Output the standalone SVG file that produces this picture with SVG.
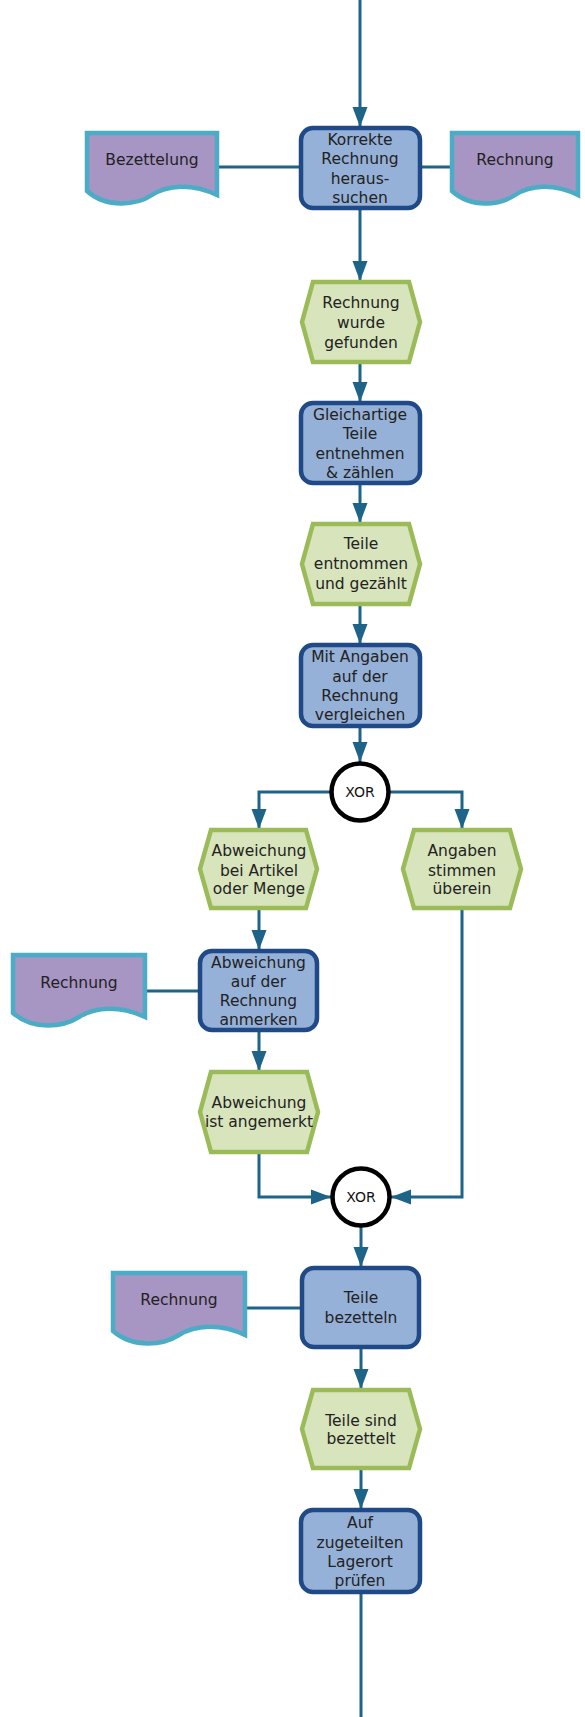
<svg xmlns="http://www.w3.org/2000/svg" width="585" height="1717" viewBox="0 0 585 1717">
<defs>
<style>
.fn{fill:#95B1D8;stroke:#1F4A87;stroke-width:4.5}
.ev{fill:#D8E4BC;stroke:#9BBB59;stroke-width:4.5}
.doc{fill:#A795C4;stroke:#4BACC6;stroke-width:4.5}
.xor{fill:#FFFFFF;stroke:#000000;stroke-width:4.5}
.c{fill:none;stroke:#1D6488;stroke-width:3}
.t{font-family:"DejaVu Sans","Liberation Sans",sans-serif;font-size:15.5px;fill:#222222;text-anchor:middle}
.x{font-family:"DejaVu Sans","Liberation Sans",sans-serif;font-size:14px;fill:#111111;text-anchor:middle}
</style>
<marker id="arr" markerWidth="20" markerHeight="16" refX="20" refY="8" orient="auto" markerUnits="userSpaceOnUse">
<path d="M0,0.5 L20,8 L0,15.5 Z" fill="#1D6488"/>
</marker>
</defs>
<rect width="585" height="1717" fill="#FFFFFF"/>
<g id="connectors">
<path class="c" d="M360,0 V127" marker-end="url(#arr)"/>
<path class="c" d="M217,167 H301"/>
<path class="c" d="M420,167 H452"/>
<path class="c" d="M360,208 V281" marker-end="url(#arr)"/>
<path class="c" d="M360,362 V402" marker-end="url(#arr)"/>
<path class="c" d="M360,483 V523" marker-end="url(#arr)"/>
<path class="c" d="M360,604 V644" marker-end="url(#arr)"/>
<path class="c" d="M360,726 V762" marker-end="url(#arr)"/>
<path class="c" d="M331,792 H259 V829" marker-end="url(#arr)"/>
<path class="c" d="M389,792 H462 V829" marker-end="url(#arr)"/>
<path class="c" d="M259,908 V950" marker-end="url(#arr)"/>
<path class="c" d="M145,991 H200"/>
<path class="c" d="M259,1030 V1071" marker-end="url(#arr)"/>
<path class="c" d="M259,1152 V1197 H331" marker-end="url(#arr)"/>
<path class="c" d="M462,908 V1197 H391" marker-end="url(#arr)"/>
<path class="c" d="M361,1227 V1267" marker-end="url(#arr)"/>
<path class="c" d="M245,1308 H302"/>
<path class="c" d="M361,1347 V1389" marker-end="url(#arr)"/>
<path class="c" d="M361,1468 V1509" marker-end="url(#arr)"/>
<path class="c" d="M361,1592 V1717"/>
</g>
<g id="f1">
<rect class="fn" x="301" y="128" width="119" height="80" rx="12"/>
<text class="t" x="360"><tspan x="360" y="144.5">Korrekte</tspan><tspan x="360" y="164">Rechnung</tspan><tspan x="360" y="183.5">heraus-</tspan><tspan x="360" y="203">suchen</tspan></text>
</g>
<g id="doc1">
<path class="doc" d="M87,133 H217 V195 C192,183 167,185 152,195 S107,209 87,191 Z"/>
<text class="t" x="152" y="164.5">Bezettelung</text>
</g>
<g id="doc2">
<path class="doc" d="M452,133 H578 V195 C554,183 530,185 515,195 S472,209 452,191 Z"/>
<text class="t" x="515" y="164.5">Rechnung</text>
</g>
<g id="e1">
<polygon class="ev" points="313,282 409,282 420,322 409,362 313,362 302,322"/>
<text class="t"><tspan x="361" y="307.5">Rechnung</tspan><tspan x="361" y="327.5">wurde</tspan><tspan x="361" y="347.5">gefunden</tspan></text>
</g>
<g id="f2">
<rect class="fn" x="301" y="403" width="119" height="80" rx="12"/>
<text class="t"><tspan x="360" y="419.5">Gleichartige</tspan><tspan x="360" y="438.5">Teile</tspan><tspan x="360" y="458.5">entnehmen</tspan><tspan x="360" y="477.5">&amp; zählen</tspan></text>
</g>
<g id="e2">
<polygon class="ev" points="313,524 409,524 420,564 409,604 313,604 302,564"/>
<text class="t"><tspan x="361" y="548.5">Teile</tspan><tspan x="361" y="568.5">entnommen</tspan><tspan x="361" y="588.5">und gezählt</tspan></text>
</g>
<g id="f3">
<rect class="fn" x="301" y="645" width="119" height="81" rx="12"/>
<text class="t"><tspan x="360" y="661.5">Mit Angaben</tspan><tspan x="360" y="681.5">auf der</tspan><tspan x="360" y="700.5">Rechnung</tspan><tspan x="360" y="719.5">vergleichen</tspan></text>
</g>
<g id="xor1">
<circle class="xor" cx="360" cy="792" r="28.5"/>
<text class="x" x="360" y="797">XOR</text>
</g>
<g id="e3">
<polygon class="ev" points="211,830 306,830 317,869 306,908 211,908 200,869"/>
<text class="t"><tspan x="259" y="855.5">Abweichung</tspan><tspan x="259" y="875.5">bei Artikel</tspan><tspan x="259" y="893.5">oder Menge</tspan></text>
</g>
<g id="e4">
<polygon class="ev" points="414,830 510,830 521,869 510,908 414,908 403,869"/>
<text class="t"><tspan x="462" y="855.5">Angaben</tspan><tspan x="462" y="875.5">stimmen</tspan><tspan x="462" y="893.5">überein</tspan></text>
</g>
<g id="f4">
<rect class="fn" x="200" y="951" width="117" height="79" rx="12"/>
<text class="t"><tspan x="258.5" y="967.5">Abweichung</tspan><tspan x="258.5" y="986.5">auf der</tspan><tspan x="258.5" y="1005.5">Rechnung</tspan><tspan x="258.5" y="1024.5">anmerken</tspan></text>
</g>
<g id="doc3">
<path class="doc" d="M13,955 H145 V1017 C120,1005 95,1007 79,1017 S34,1031 13,1013 Z"/>
<text class="t" x="79" y="987.5">Rechnung</text>
</g>
<g id="e5">
<polygon class="ev" points="211,1072 307,1072 318,1112 307,1152 211,1152 200,1112"/>
<text class="t"><tspan x="259" y="1107.5">Abweichung</tspan><tspan x="259" y="1126.5">ist angemerkt</tspan></text>
</g>
<g id="xor2">
<circle class="xor" cx="361" cy="1197" r="28.5"/>
<text class="x" x="361" y="1202">XOR</text>
</g>
<g id="f5">
<rect class="fn" x="302" y="1268" width="117" height="79" rx="12"/>
<text class="t"><tspan x="361" y="1302.5">Teile</tspan><tspan x="361" y="1322.5">bezetteln</tspan></text>
</g>
<g id="doc4">
<path class="doc" d="M113,1273 H245 V1335 C220,1323 195,1325 179,1335 S134,1349 113,1331 Z"/>
<text class="t" x="179" y="1304.5">Rechnung</text>
</g>
<g id="e6">
<polygon class="ev" points="313,1390 409,1390 420,1429 409,1468 313,1468 302,1429"/>
<text class="t"><tspan x="361" y="1425.5">Teile sind</tspan><tspan x="361" y="1443.5">bezettelt</tspan></text>
</g>
<g id="f6">
<rect class="fn" x="301" y="1510" width="119" height="82" rx="12"/>
<text class="t"><tspan x="360" y="1527.5">Auf</tspan><tspan x="360" y="1547.5">zugeteilten</tspan><tspan x="360" y="1566.5">Lagerort</tspan><tspan x="360" y="1585.5">prüfen</tspan></text>
</g>
</svg>
